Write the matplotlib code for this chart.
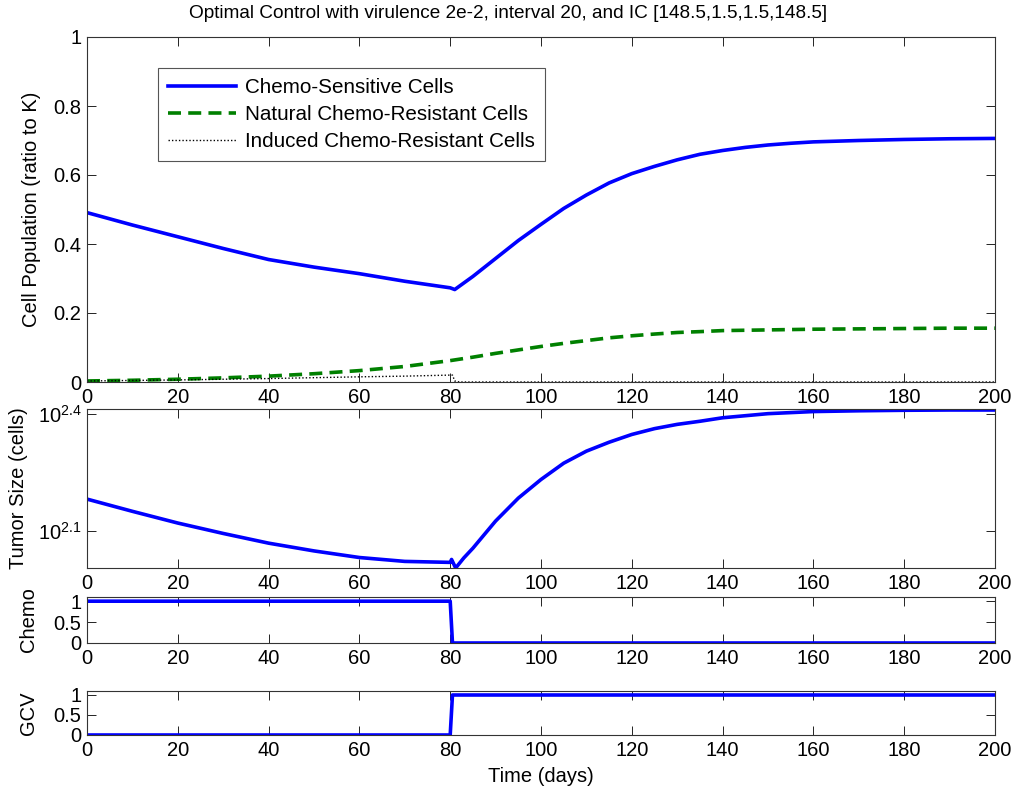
import numpy as np
import matplotlib
matplotlib.use("Agg")
import matplotlib.pyplot as plt
from matplotlib.ticker import NullLocator

plt.rcParams['font.family'] = ['Liberation Sans', 'DejaVu Sans']
plt.rcParams['mathtext.fontset'] = 'custom'
plt.rcParams['mathtext.rm'] = 'Liberation Sans'
plt.rcParams['mathtext.it'] = 'Liberation Sans:italic'

# ---------------- data ----------------
t_cells = [0, 10, 20, 30, 40, 50, 60, 70, 80, 81, 85, 90, 95, 100, 105, 110, 115,
           120, 125, 130, 135, 140, 145, 150, 155, 160, 170, 180, 190, 200]
sensitive = [0.491, 0.455, 0.421, 0.387, 0.355, 0.333, 0.314, 0.292, 0.273, 0.268,
             0.306, 0.358, 0.410, 0.457, 0.503, 0.542, 0.577, 0.604, 0.625, 0.644,
             0.660, 0.671, 0.680, 0.687, 0.692, 0.696, 0.700, 0.703, 0.705, 0.706]
natural = [0.003, 0.005, 0.008, 0.012, 0.017, 0.024, 0.033, 0.045, 0.062, 0.064,
           0.072, 0.083, 0.093, 0.103, 0.112, 0.120, 0.128, 0.134, 0.139, 0.1435,
           0.146, 0.149, 0.150, 0.151, 0.152, 0.153, 0.154, 0.155, 0.156, 0.156]
t_induced = [0, 20, 40, 60, 70, 80, 80.5, 81, 82, 200]
induced = [0.003, 0.006, 0.010, 0.015, 0.017, 0.020, 0.020, 0.003, 0.0, 0.0]

t_tumor = [0, 10, 20, 30, 40, 50, 60, 70, 80, 80.3, 81.2, 83, 85, 90, 95, 100, 105,
           110, 115, 120, 125, 130, 135, 140, 150, 160, 170, 180, 190, 200]
tumor_log10 = [2.1815, 2.150, 2.1198, 2.093, 2.068, 2.048, 2.031, 2.021, 2.0185,
               2.026, 2.004, 2.030, 2.055, 2.125, 2.184, 2.232, 2.274, 2.305, 2.328,
               2.348, 2.363, 2.374, 2.382, 2.391, 2.4016, 2.407, 2.409, 2.4103,
               2.411, 2.411]
tumor = [10 ** v for v in tumor_log10]

t_ctrl = [0, 80, 80.5, 200]
chemo = [1, 1, 0, 0]
gcv = [0, 0, 1, 1]

xticks = list(range(0, 201, 20))
title = "Optimal Control with virulence 2e-2, interval 20, and IC [148.5,1.5,1.5,148.5]"

# ---------------- figure ----------------
W, H = 1017, 795
fig = plt.figure(figsize=(W / 100, H / 100), dpi=100)

def axpos(l, t, r, b):
    return [l / W, 1 - b / H, (r - l) / W, (b - t) / H]

ax1 = fig.add_axes(axpos(87, 37, 995, 382))
ax2 = fig.add_axes(axpos(87, 409, 995, 568))
ax3 = fig.add_axes(axpos(87, 597, 995, 643))
ax4 = fig.add_axes(axpos(87, 691, 995, 735))

FS = 14.5
LW = 2.6
blue = (0, 0, 1)
green = (0, 0.5, 0)

for ax in (ax1, ax2, ax3, ax4):
    ax.set_xlim(0, 200)
    ax.set_xticks(xticks)
    ax.tick_params(direction='in', top=True, right=True, length=6.5, width=0.6,
                   labelsize=FS, pad=4, colors='black')
    for s in ax.spines.values():
        s.set_linewidth(0.8)
        s.set_color('#333333')

# top axis
ax1.plot(t_cells, sensitive, color=blue, lw=LW, label='Chemo-Sensitive Cells')
ax1.plot(t_cells, natural, color=green, lw=LW, ls=(0, (3.6, 2.0)),
         label='Natural Chemo-Resistant Cells')
ax1.plot(t_induced, induced, color='black', lw=1.0, ls=(0, (1, 1.5)),
         label='Induced Chemo-Resistant Cells')
ax1.set_ylim(0, 1)
ax1.set_yticks([0, 0.2, 0.4, 0.6, 0.8, 1])
ax1.set_yticklabels(['0', '0.2', '0.4', '0.6', '0.8', '1'])
ax1.set_ylabel('Cell Population (ratio to K)', fontsize=FS)
ax1.yaxis.set_label_coords(-0.051, 0.5)
fig.text(0.5, 1 - 14 / H, title, fontsize=13.7, ha='center', va='center')
leg = ax1.legend(loc='upper left', bbox_to_anchor=(0.078, 0.91), fontsize=14.9,
                 fancybox=False, edgecolor='#555555', framealpha=1,
                 handlelength=3.3, borderpad=0.5, labelspacing=0.38,
                 handletextpad=0.4, borderaxespad=0)
leg.get_frame().set_linewidth(0.8)

# tumor size
ax2.plot(t_tumor, tumor, color=blue, lw=LW)
ax2.set_yscale('log')
ax2.set_ylim(10 ** 2.004, 10 ** 2.4136)
ax2.set_yticks([10 ** 2.1, 10 ** 2.4])
ax2.set_yticklabels([r'$10^{2.1}$', r'$10^{2.4}$'])
ax2.yaxis.set_minor_locator(NullLocator())
ax2.set_ylabel('Tumor Size (cells)', fontsize=FS)
ax2.yaxis.set_label_coords(-0.065, 0.5)

# chemo
ax3.plot(t_ctrl, chemo, color=blue, lw=LW)
ax3.set_ylim(0, 1.1)
ax3.set_yticks([0, 0.5, 1])
ax3.set_yticklabels(['0', '0.5', '1'])
ax3.set_ylabel('Chemo', fontsize=FS)
ax3.yaxis.set_label_coords(-0.054, 0.5)

# gcv
ax4.plot(t_ctrl, gcv, color=blue, lw=LW)
ax4.set_ylim(0, 1.1)
ax4.set_yticks([0, 0.5, 1])
ax4.set_yticklabels(['0', '0.5', '1'])
ax4.set_ylabel('GCV', fontsize=FS)
ax4.yaxis.set_label_coords(-0.054, 0.5)
ax4.set_xlabel('Time (days)', fontsize=FS, labelpad=5)

fig.savefig('out.png', dpi=100)
